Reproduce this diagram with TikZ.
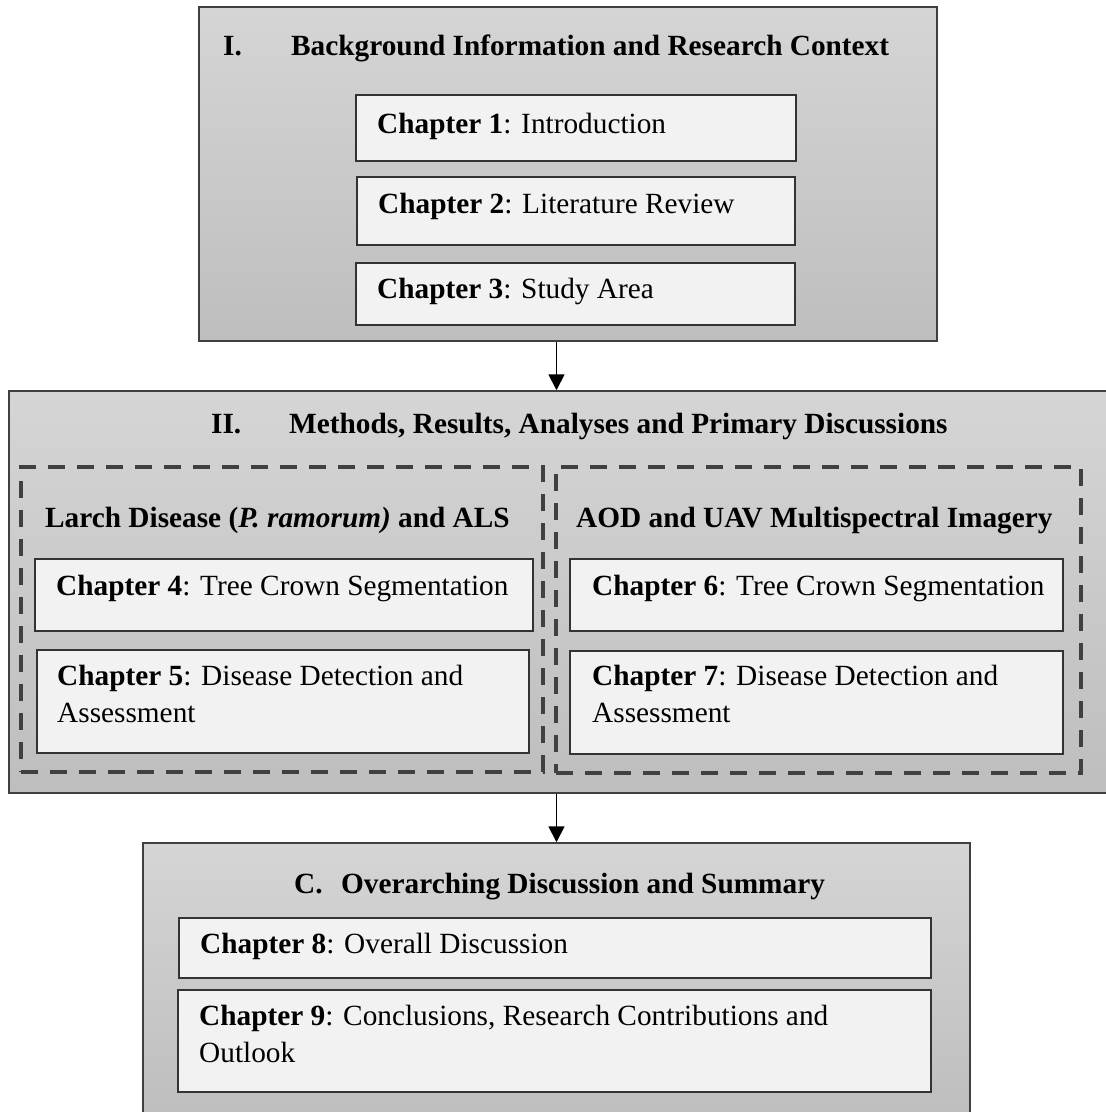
\documentclass[tikz,border=0pt]{standalone}
\usepackage{fontspec}
\setmainfont{Liberation Serif}
\usetikzlibrary{arrows.meta,fit}
\definecolor{boxtop}{HTML}{D5D5D5}
\definecolor{boxbot}{HTML}{BEBEBE}
\definecolor{chapfill}{HTML}{F2F2F2}
\definecolor{framegray}{HTML}{404040}
\begin{document}
\begin{tikzpicture}[x=1pt,y=-1pt,
    part/.style={draw=black!75,line width=1.5pt,top color=boxtop,bottom color=boxbot,inner sep=0pt},
    chap/.style={draw=black!80,line width=1.8pt,fill=chapfill,inner sep=0pt},
    group/.style={draw=framegray,line width=4pt,dash pattern=on 17pt off 12pt,inner sep=0pt},
    txt/.style={anchor=base west,inner sep=0pt,font=\fontsize{29.3}{37}\selectfont,align=left},
    arr/.style={line width=1.8pt,-{Triangle[width=16pt,length=16pt]}}]
  \useasboundingbox (0,0) rectangle (1106,1112);
  \node[part,fit={(199,7) (937,341)}] (partI) {};
  \node[chap,fit={(356,95) (796,161)}] (ch1) {};
  \node[chap,fit={(357,177) (795,245)}] (ch2) {};
  \node[chap,fit={(356,263) (795,325)}] (ch3) {};
  \node[txt] (titleI) at (223,55) {\textbf{\makebox[68pt][l]{I.}Background Information and Research Context}};
  \node[txt] (t1) at (377,133) {\textbf{Chapter 1}: Introduction};
  \node[txt] (t2) at (378,213) {\textbf{Chapter 2}: Literature Review};
  \node[txt] (t3) at (377,298) {\textbf{Chapter 3}: Study Area};

  \node[part,fit={(9,391) (1108,793)}] (partII) {};
  \node[group,fit={(21,467) (543,772)}] (larchgrp) {};
  \node[group,fit={(556,467) (1081,773)}] (aodgrp) {};
  \node[chap,fit={(35,559) (533,631)}] (ch4) {};
  \node[chap,fit={(37,650) (529,753)}] (ch5) {};
  \node[chap,fit={(570,559) (1063,631)}] (ch6) {};
  \node[chap,fit={(570,651) (1063,754)}] (ch7) {};
  \node[txt] (titleII) at (211,433) {\textbf{\makebox[78pt][l]{II.}Methods, Results, Analyses and Primary Discussions}};
  \node[txt] (larch) at (45,527) {\textbf{Larch Disease (\textit{P. ramorum)} and ALS}};
  \node[txt] (aod) at (576,527) {\textbf{AOD and UAV Multispectral Imagery}};
  \node[txt] (t4) at (56,595) {\textbf{Chapter 4}: Tree Crown Segmentation};
  \node[txt] (t5) at (57,722) {\textbf{Chapter 5}: Disease Detection and\\Assessment};
  \node[txt] (t6) at (592,595) {\textbf{Chapter 6}: Tree Crown Segmentation};
  \node[txt] (t7) at (592,722) {\textbf{Chapter 7}: Disease Detection and\\Assessment};

  \node[part,fit={(143,843) (970,1115)}] (partC) {};
  \node[chap,fit={(179,918) (931,978)}] (ch8) {};
  \node[chap,fit={(178,990) (931,1092)}] (ch9) {};
  \node[txt] (titleC) at (294,893) {\textbf{\makebox[47pt][l]{C.}Overarching Discussion and Summary}};
  \node[txt] (t8) at (200,953) {\textbf{Chapter 8}: Overall Discussion};
  \node[txt] (t9) at (199,1062) {\textbf{Chapter 9}: Conclusions, Research Contributions and\\Outlook};

  \draw[arr] (partI.south -| partC.north) -- (partII.north -| partC.north);
  \draw[arr] (partII.south -| partC.north) -- (partC.north);
\end{tikzpicture}
\end{document}
